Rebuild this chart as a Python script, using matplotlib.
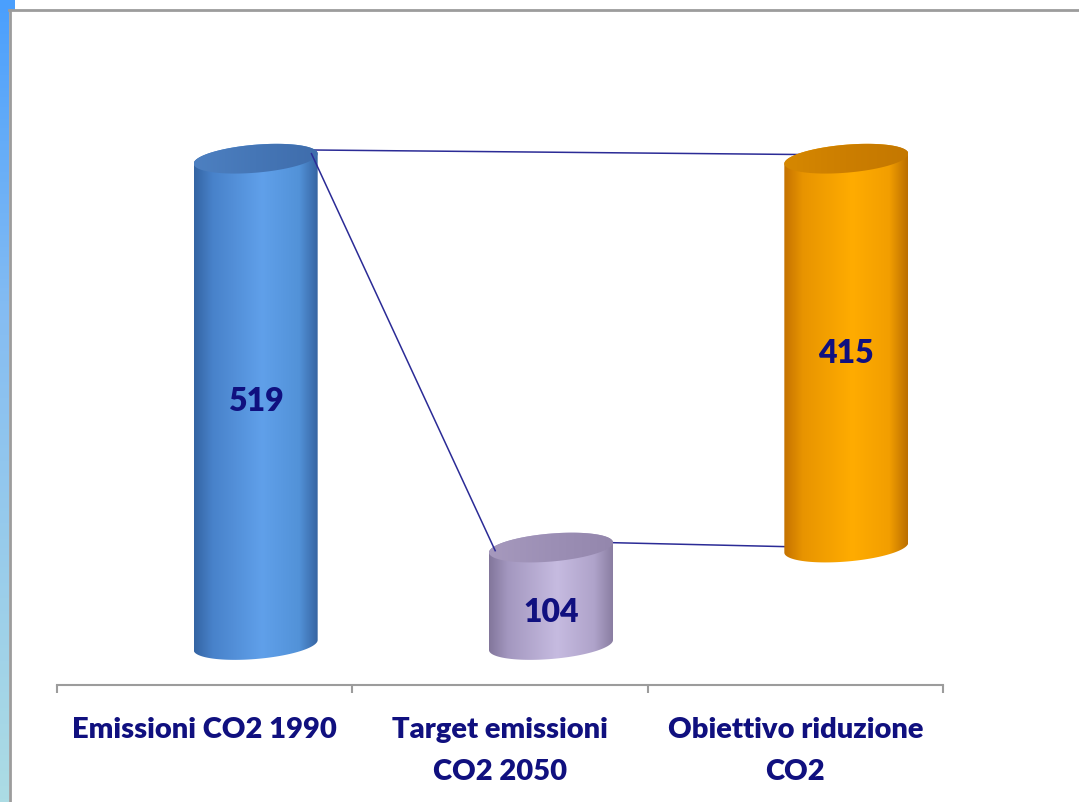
import numpy as np
import matplotlib
matplotlib.use("Agg")
import matplotlib.pyplot as plt
from matplotlib.colors import LinearSegmentedColormap
from matplotlib.path import Path
from matplotlib.patches import PathPatch, Rectangle
from matplotlib.lines import Line2D

# ---------------- data ----------------
categories = ["Emissioni CO2 1990", "Target emissioni\nCO2 2050", "Obiettivo riduzione\nCO2"]
values = [519, 104, 415]
bases = [0, 0, 104]
value_labels = ["519", "104", "415"]

# ---------------- styles ----------------
NAVY = "#10107f"
GRAY = "#9c9c9c"
body_stops = [
    ["#3464a3", "#4882ca", "#60a0ea", "#5292d8", "#3664a2"],
    ["#82769b", "#a397bf", "#c6bbe0", "#afa3ca", "#8a7ea2"],
    ["#c47200", "#e89400", "#ffac00", "#f29e00", "#bb6f00"],
]
top_stops = [
    ["#4d80c1", "#4576b6", "#3f6dac"],
    ["#a699bd", "#9c8fb5", "#9487ad"],
    ["#d68800", "#cc7e00", "#c47800"],
]
label_frac = [0.5, 0.33, 0.5]

W, H = 1079, 802
fig = plt.figure(figsize=(W / 100, H / 100), dpi=100)
fig.patch.set_facecolor("white")

PX_PER_UNIT = 0.937
ZERO_PX = 645
AX_BOTTOM_PX = 685
AX_TOP_PX = 100
AX_LEFT_PX = 57
AX_RIGHT_PX = 943
CAT_PX = (AX_RIGHT_PX - AX_LEFT_PX) / 3.0

ax = fig.add_axes([AX_LEFT_PX / W, 1 - AX_BOTTOM_PX / H,
                   (AX_RIGHT_PX - AX_LEFT_PX) / W, (AX_BOTTOM_PX - AX_TOP_PX) / H])
ax.set_facecolor("none")

depth_dx = 51 / CAT_PX          # 3D depth shift to the right (x units)
hw = 62 / CAT_PX                # cylinder half width (x units)
b = 14 / PX_PER_UNIT            # ellipse half height (y units)
s = 5.0 / PX_PER_UNIT           # tilt: right side higher (y units)


def ellipse_pts(cx, cy, th):
    return np.column_stack([cx + hw * np.cos(th), cy + b * np.sin(th) + s * np.cos(th)])


def cylinder(i, y0, y1):
    cx = i + depth_dx
    th_bot = np.linspace(0, -np.pi, 80)
    th_top = np.linspace(np.pi, 0, 80)
    pts = np.vstack([
        [[cx + hw, y1 + s]],
        ellipse_pts(cx, y0, th_bot),
        ellipse_pts(cx, y1, th_top),
    ])
    pts = np.vstack([pts, pts[:1]])
    body = PathPatch(Path(pts, closed=True), facecolor="none", edgecolor="none", zorder=3)
    ax.add_patch(body)
    cmap = LinearSegmentedColormap.from_list("b%d" % i, list(zip([0, 0.15, 0.55, 0.85, 1.0], body_stops[i])))
    grad = np.linspace(0, 1, 256).reshape(1, -1)
    im = ax.imshow(grad, extent=(cx - hw, cx + hw, y0 - b - s - 2, y1 + b + s + 2),
                   aspect="auto", cmap=cmap, zorder=3, interpolation="bilinear")
    im.set_clip_path(body)
    tp = ellipse_pts(cx, y1, np.linspace(0, 2 * np.pi, 160))
    top = PathPatch(Path(tp, closed=True), facecolor="none", edgecolor="none", zorder=4)
    ax.add_patch(top)
    cmap_t = LinearSegmentedColormap.from_list("t%d" % i, top_stops[i])
    im2 = ax.imshow(grad, extent=(cx - hw, cx + hw, y1 - b - s - 2, y1 + b + s + 2),
                    aspect="auto", cmap=cmap_t, zorder=4, interpolation="bilinear")
    im2.set_clip_path(top)


for i, (v, b0) in enumerate(zip(values, bases)):
    cylinder(i, b0, b0 + v)
    ax.text(i + depth_dx, b0 + v * label_frac[i], value_labels[i], ha="center", va="center",
            fontsize=23, fontweight="heavy", color=NAVY, family="Lato", zorder=6)

# connector lines
c = [i + depth_dx for i in range(3)]
top0 = bases[0] + values[0]
top1 = bases[1] + values[1]
LC = "#2b2b96"
ax.plot([c[0] + hw * 0.85, c[2]], [top0 + s + 4, top0 + 4], color=LC, lw=1.1, zorder=2)
ax.plot([c[0] + hw * 0.9, c[1] - hw * 0.9], [top0 + s, top1 - s + 2], color=LC, lw=1.1, zorder=5)
ax.plot([c[1] + hw * 0.9, c[2] - hw], [top1 + s, bases[2] + 1], color=LC, lw=1.1, zorder=2)

ax.set_xlim(-0.5, 2.5)
ax.set_ylim(-(AX_BOTTOM_PX - ZERO_PX) / PX_PER_UNIT, (ZERO_PX - AX_TOP_PX) / PX_PER_UNIT)

for sp in ["top", "left", "right"]:
    ax.spines[sp].set_visible(False)
ax.spines["bottom"].set_color(GRAY)
ax.spines["bottom"].set_linewidth(1.5)
ax.set_yticks([])
ax.set_xticks([-0.5, 0.5, 1.5, 2.5])
ax.set_xticklabels([])
ax.tick_params(axis="x", which="major", length=6, width=1.5, color=GRAY, direction="out")
ax.set_xticks([0, 1, 2], minor=True)
ax.set_xticklabels(categories, minor=True, fontsize=21, fontweight="heavy", color=NAVY,
                   family="Lato", linespacing=1.78)
ax.tick_params(axis="x", which="minor", length=0, pad=23)

# slide decoration: left gradient strip and frame lines
sax = fig.add_axes([0, 0, 9 / W, 1])
sax.axis("off")
scmap = LinearSegmentedColormap.from_list("strip", [(0, "#4a9ffd"), (0.4, "#86bdf2"), (1, "#acdce4")])
sax.imshow(np.linspace(0, 1, 256).reshape(-1, 1), aspect="auto", cmap=scmap, extent=(0, 1, 0, 1))
fig.add_artist(Rectangle((0, 1 - 10 / H), 15 / W, 10 / H, transform=fig.transFigure,
                         facecolor="#4a9ffd", edgecolor="none"))
fig.add_artist(Line2D([10 / W, 10 / W], [0, 1 - 9.5 / H], transform=fig.transFigure, color=GRAY, lw=2))
fig.add_artist(Line2D([9 / W, 1], [1 - 9.5 / H, 1 - 9.5 / H], transform=fig.transFigure, color=GRAY, lw=2))

fig.savefig("out.png", dpi=100, facecolor="white")
